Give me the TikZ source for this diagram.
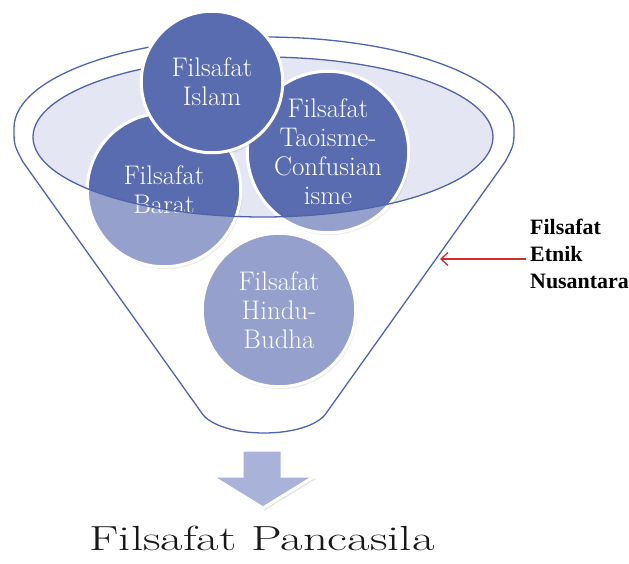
\documentclass[tikz,border=0pt]{standalone}
\usepackage{fontspec}
\usepackage{tikz}
\usepackage{xcolor}
\usetikzlibrary{shadows,arrows.meta}
\newfontfamily\timesbold{Liberation Serif}[BoldFont={* Bold}]
\definecolor{gelap}{RGB}{90,108,176}
\definecolor{garis}{RGB}{80,100,170}
\definecolor{isian}{RGB}{228,231,243}
\definecolor{panah}{RGB}{169,179,218}
\definecolor{merah}{RGB}{210,45,45}

\begin{document}
\begin{tikzpicture}[x=1bp,y=-1bp,
  bulat/.style={circle,fill=gelap,draw=white,line width=3bp,inner sep=-10bp,text=white,
    align=center,font=\fontsize{27}{29}\selectfont,
    drop shadow={opacity=0.22,shadow xshift=1.5bp,shadow yshift=-2.5bp}},
  corong/.style={draw=garis,line width=1.3bp}]
\useasboundingbox (0,0) rectangle (629,564);
\fill[isian] (263,137) ellipse[x radius=230,y radius=80];
\draw[corong] (33,137) arc[start angle=180,end angle=360,x radius=230,y radius=80];
\draw[corong] (14,128) arc[start angle=180,end angle=360,x radius=250,y radius=91];
\node[bulat,minimum size=154] (barat) at (164,190) {Filsafat\\Barat};
\node[bulat,minimum size=162] (tao) at (328,152) {Filsafat\\Taoisme-\\Confusian\\isme};
\node[bulat,minimum size=154] (hindu) at (279,310) {Filsafat\\Hindu-\\Budha};
\node[bulat,minimum size=142] (islam) at (212,82) {Filsafat\\Islam};
\fill[white,opacity=0.36] (33,137) arc[start angle=180,end angle=0,x radius=230,y radius=80]
  -- (514,137) .. controls (514,148) .. (505,162) -- (327,412)
  .. controls (310,440) and (218,440) .. (201,412) -- (23,162)
  .. controls (14,148) .. (14,137) -- cycle;
\draw[corong] (33,137) arc[start angle=180,end angle=0,x radius=230,y radius=80];
\draw[corong] (514,128) .. controls (514,145) .. (505,162) -- (327,412)
  .. controls (310,440) and (218,440) .. (201,412) -- (23,162)
  .. controls (14,145) .. (14,128);
\node[anchor=north west,inner sep=0pt,align=left,font=\timesbold\bfseries\fontsize{22}{27}\selectfont]
  (etnik) at (530,219) {Filsafat\\Etnik\\Nusantara};
\coordinate (ujung) at (440,259);
\draw[merah,line width=1.3bp,shorten <=4bp,-{Straight Barb[length=7bp,width=13bp]}] (etnik.west |- ujung) -- (ujung);
\filldraw[fill=panah,draw=white,line width=3bp,line join=miter,
  drop shadow={opacity=0.22,shadow xshift=1.5bp,shadow yshift=-2.5bp}]
  (242,450) -- (282,450) -- (282,476) -- (315,476) -- (263,508) -- (211,476) -- (242,476) -- cycle;
\node[anchor=base,inner sep=0pt,xscale=1.4,text=black!90,font=\fontsize{35}{40}\selectfont]
  (pancasila) at (262,550) {Filsafat Pancasila};
\end{tikzpicture}
\end{document}
